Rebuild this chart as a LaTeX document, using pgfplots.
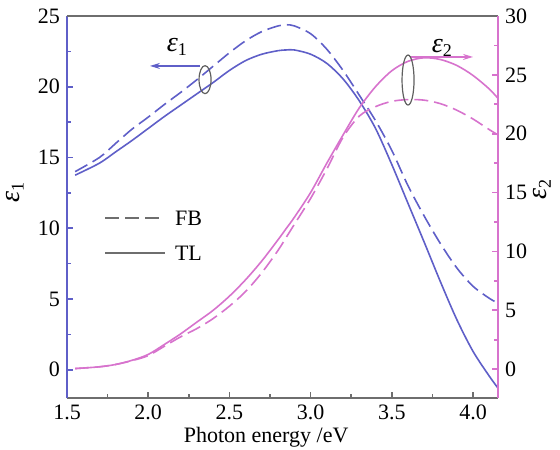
\documentclass[border=0pt]{standalone}
\usepackage{fontspec}
\setmainfont{Liberation Serif}
\usepackage{pgfplots}
\pgfplotsset{compat=1.18}
\usetikzlibrary{arrows.meta}

\definecolor{eblue}{RGB}{95,95,200}
\definecolor{epink}{RGB}{215,115,205}
\definecolor{axgray}{RGB}{110,110,110}
\definecolor{ringgray}{RGB}{95,95,95}

\newcommand{\eps}[1]{{\fontsize{14}{16}\selectfont\itshape ε}\raisebox{-0.45ex}{\fontsize{9}{10}\selectfont #1}}

% columns: photon energy, TL model, FB model
\pgfplotstableread{
x     TL     FB
1.55  13.75  14.0
1.70  14.6   15.0
1.80  15.4   16.0
1.90  16.2   17.0
2.00  17.05  17.85
2.10  17.9   18.75
2.20  18.7   19.6
2.30  19.5   20.5
2.40  20.3   21.45
2.50  21.15  22.4
2.60  21.85  23.25
2.70  22.3   23.9
2.80  22.55  24.3
2.85  22.6   24.38
2.90  22.6   24.3
3.00  22.3   23.75
3.10  21.65  22.65
3.20  20.55  21.15
3.30  19.0   19.4
3.40  17.05  17.6
3.50  14.5   15.5
3.60  11.75  13.0
3.70  9.0    10.85
3.80  6.2    8.9
3.90  3.55   7.2
4.00  1.3    5.9
4.10  -0.45  5.05
4.154 -1.3   4.7
}\epsone

\pgfplotstableread{
x     TL     FB
1.55  0.05   0.05
1.70  0.2    0.2
1.80  0.4    0.4
1.90  0.75   0.72
2.00  1.25   1.15
2.10  2.1    1.95
2.20  3.0    2.75
2.30  4.0    3.45
2.40  5.0    4.3
2.50  6.2    5.35
2.60  7.6    6.6
2.70  9.2    8.2
2.80  11.0   10.1
2.85  11.95  11.2
2.90  12.9   12.3
3.00  15.0   14.5
3.10  17.5   17.0
3.20  19.9   19.7
3.30  22.2   21.5
3.40  24.0   22.3
3.50  25.35  22.75
3.60  26.15  22.9
3.70  26.45  22.85
3.80  26.3   22.55
3.90  25.8   22.0
4.00  24.95  21.25
4.10  23.8   20.35
4.154 23.0   19.9
}\epstwo

\pgfplotsset{
  common/.style={
    scale only axis, width=215.5pt, height=191pt,
    xmin=1.5, xmax=4.154,
    tick align=inside, major tick length=3pt, minor tick length=2pt,
    label style={font=\fontsize{11}{13}\selectfont},
    ticklabel style={font=\fontsize{11}{13}\selectfont},
    /pgf/number format/assume math mode=true,
  },
}

\begin{document}
\begin{tikzpicture}
\begin{axis}[common,
  ymin=-2, ymax=25,
  axis y line*=left,
  xtick={1.5,2.0,...,4.0}, minor x tick num=1, xtick pos=left,
  xticklabel style={/pgf/number format/.cd, fixed, fixed zerofill, precision=1},
  ytick={0,5,...,25}, minor y tick num=1,
  x axis line style={axgray, line width=0.9pt},
  y axis line style={eblue, line width=1pt},
  xtick style={axgray, line width=0.8pt},
  ytick style={eblue, line width=0.8pt},
  xlabel={Photon energy /eV},
  ylabel={\eps{1}},
  xlabel style={at={(axis description cs:0.462,-0.102)}, anchor=center},
  ylabel style={at={(axis description cs:-0.121,0.537)}, anchor=center},
  legend style={at={(axis description cs:0.072,0.4255)}, anchor=west,
    draw=none, fill=none, font=\fontsize{11}{13}\selectfont,
    nodes={inner sep=0pt, text height=7.5pt, text depth=0pt},
    row sep=10pt, column sep=4.5pt},
  legend cell align=left,
  legend image code/.code={\draw[#1] (0pt,0pt) -- (30pt,0pt);},
]
\addlegendimage{axgray, line width=0.8pt, dash pattern=on 7pt off 3pt}
\addlegendentry{FB}
\addlegendimage{axgray, line width=0.8pt}
\addlegendentry{TL}

\addplot[eblue, smooth, line width=0.8pt, dash pattern=on 7pt off 3pt, forget plot] table[x=x, y=FB] {\epsone};
\addplot[eblue, smooth, line width=0.8pt, forget plot] table[x=x, y=TL] {\epsone};

\draw[eblue, line width=0.6pt, -{Stealth[length=5pt, width=3pt]}]
  (axis cs:2.319,21.47) -- (axis cs:2.011,21.47);
\node at (axis cs:2.177,22.8) {\eps{1}};
\draw[ringgray, line width=0.6pt] (axis cs:2.35,20.5) ellipse [x radius=3pt, y radius=7pt];
\end{axis}

\begin{axis}[common,
  ymin=-2.45, ymax=30,
  axis x line*=top, xtick=\empty,
  x axis line style={axgray, line width=0.8pt},
  axis y line*=right,
  ytick={0,5,...,30}, minor y tick num=1,
  y axis line style={epink, line width=0.8pt},
  ytick style={epink, line width=0.8pt},
  ylabel={\eps{2}},
  ylabel style={at={(axis description cs:1.102,0.545)}, anchor=center},
]
\addplot[epink, smooth, line width=0.8pt, dash pattern=on 7pt off 3pt] table[x=x, y=FB] {\epstwo};
\addplot[epink, smooth, line width=0.8pt] table[x=x, y=TL] {\epstwo};

\draw[epink, line width=0.6pt, -{Stealth[length=5pt, width=3pt]}]
  (axis cs:3.612,26.52) -- (axis cs:4.0,26.52);
\node at (axis cs:3.809,27.3) {\eps{2}};
\draw[ringgray, line width=0.6pt] (axis cs:3.60,24.56) ellipse [x radius=3pt, y radius=12.5pt];
\end{axis}

\pgfresetboundingbox
\path[use as bounding box] (-33.5pt,-25.5pt) rectangle (246.5pt,199pt);
\end{tikzpicture}
\end{document}
